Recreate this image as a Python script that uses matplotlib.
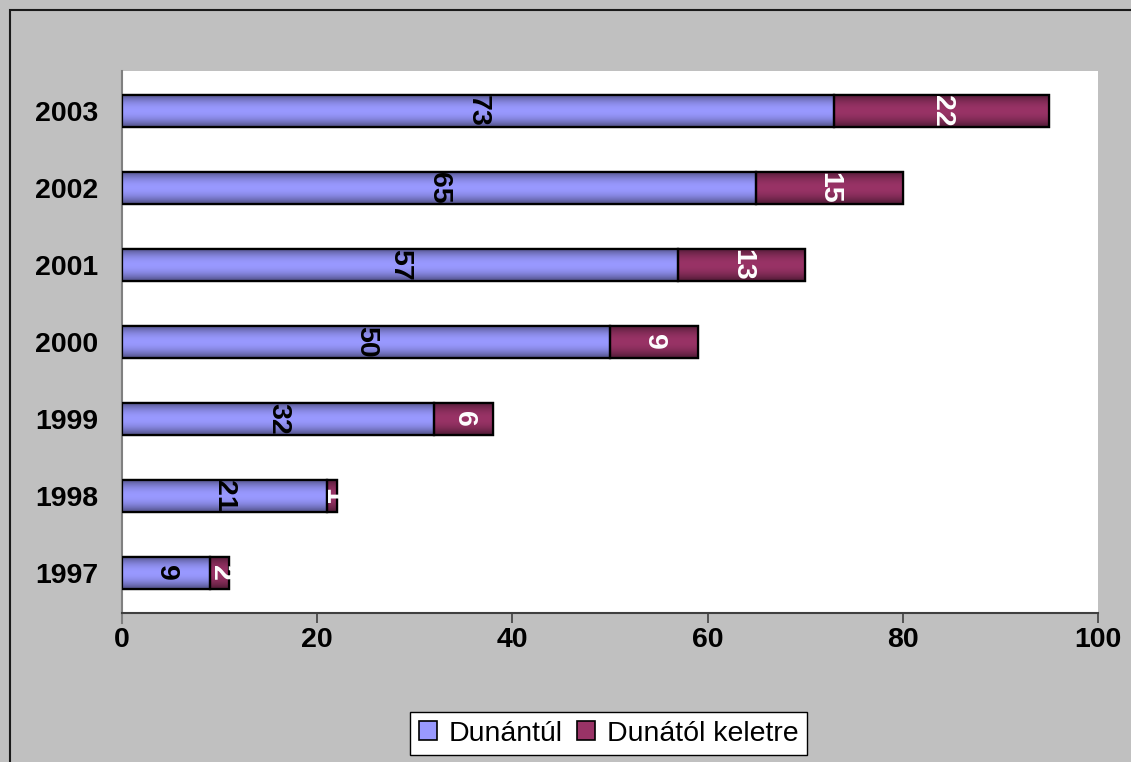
import numpy as np
import matplotlib
matplotlib.use("Agg")
import matplotlib.pyplot as plt
from matplotlib.patches import Rectangle, Patch
from matplotlib.colors import to_rgb

plt.rcParams['font.family'] = ['Liberation Sans', 'DejaVu Sans']

years = ['1997', '1998', '1999', '2000', '2001', '2002', '2003']
dunantul = [9, 21, 32, 50, 57, 65, 73]
keletre = [2, 1, 6, 9, 13, 15, 22]
series_names = ['Dunántúl', 'Dunától keletre']
x_ticks = [0, 20, 40, 60, 80, 100]

blue = '#9999ff'
maroon = '#993366'
FS = 20.5

W, H = 1131, 762
fig = plt.figure(figsize=(W / 100, H / 100), dpi=100, facecolor='#c0c0c0')

# outer chart frame
fig.patches.append(Rectangle((10 / W, -0.05), 1.2, 1 - 10 / H + 0.05,
                             transform=fig.transFigure, fill=False,
                             edgecolor='#1a1a1a', linewidth=1.5, zorder=0))

ax = fig.add_axes([122 / W, 1 - 613 / H, (1098 - 122) / W, (613 - 71) / H])
ax.set_facecolor('white')

y = np.arange(len(years))
bar_h = 0.42


def shade(color, n=64):
    """Vertical gradient: darker at the bar edges, full colour in the middle."""
    c = np.array(to_rgb(color))
    t = np.linspace(-1, 1, n)
    f = 1 - 0.5 * np.abs(t) ** 2.0
    return (c[None, :] * f[:, None])[:, None, :]


def draw_series(values, left, color):
    bars = ax.barh(y, values, left=left, height=bar_h, color=color,
                   edgecolor='black', linewidth=1.6, zorder=2)
    grad = shade(color)
    for p in bars:
        x0, y0 = p.get_x(), p.get_y()
        x1, y1 = x0 + p.get_width(), y0 + p.get_height()
        im = ax.imshow(grad, extent=(x0, x1, y0, y1), aspect='auto',
                       interpolation='bilinear', zorder=2.5)
        im.set_clip_path(p)
        edge = Rectangle((x0, y0), x1 - x0, y1 - y0, fill=False,
                         edgecolor='black', linewidth=1.6, zorder=3)
        ax.add_patch(edge)
    return bars


b1 = draw_series(dunantul, 0, blue)
b2 = draw_series(keletre, dunantul, maroon)

for i, v in enumerate(dunantul):
    ax.text(v / 2, y[i], str(v), rotation=-90, ha='center', va='center',
            fontsize=FS, fontweight='bold', color='black', zorder=5)
for i, v in enumerate(keletre):
    ax.text(dunantul[i] + v / 2, y[i], str(v), rotation=-90, ha='center',
            va='center', fontsize=FS, fontweight='bold', color='white', zorder=5)

ax.set_xlim(0, 100)
ax.set_ylim(-0.52, 6.52)
ax.set_xticks(x_ticks)
ax.set_xticklabels([str(t) for t in x_ticks], fontsize=FS, fontweight='bold')
ax.set_yticks(y)
ax.set_yticklabels(years, fontsize=FS, fontweight='bold')
ax.tick_params(axis='y', length=0, pad=17)
ax.tick_params(axis='x', length=7, width=1.2, color='#404040', pad=3,
               direction='out')
for s in ['top', 'right']:
    ax.spines[s].set_visible(False)
ax.spines['left'].set_color('#808080')
ax.spines['left'].set_linewidth(1.5)
ax.spines['bottom'].set_color('#404040')
ax.spines['bottom'].set_linewidth(1.5)
ax.spines['left'].set_bounds(-0.52 - 10 / 77.5, 6.52)

handles = [Patch(facecolor=blue, edgecolor='black', linewidth=1.2),
           Patch(facecolor=maroon, edgecolor='black', linewidth=1.2)]
leg = fig.legend(handles, series_names, loc='upper left',
                 bbox_to_anchor=(410 / W, 1 - 712 / H), ncol=2,
                 fontsize=FS, frameon=True, fancybox=False, framealpha=1,
                 edgecolor='black', handlelength=0.65, handleheight=0.65,
                 handletextpad=0.4, columnspacing=0.5, borderpad=0.3,
                 borderaxespad=0)
leg.get_frame().set_linewidth(1.0)

fig.savefig('out.png', dpi=100, facecolor=fig.get_facecolor())
